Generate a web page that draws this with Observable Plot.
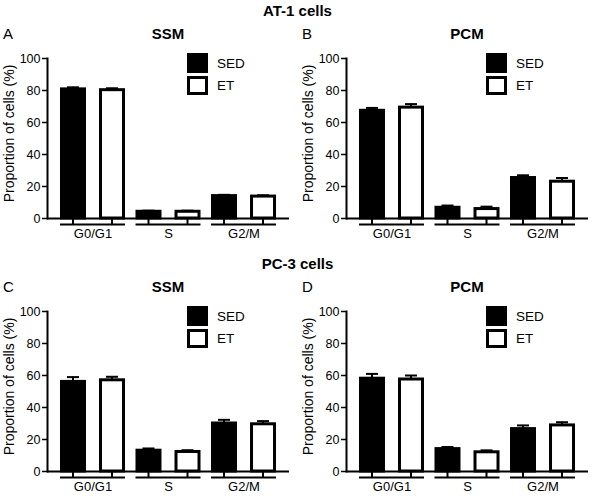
<!DOCTYPE html>
<html><head><meta charset="utf-8">
<script src="https://cdn.jsdelivr.net/npm/d3@7"></script>
<script src="https://cdn.jsdelivr.net/npm/@observablehq/plot@0.6"></script>
<style>
body{margin:0;background:#fff;}
#root{position:relative;width:595px;height:500px;font-family:"Liberation Sans",Arial,Helvetica,sans-serif;color:#000;overflow:hidden;}
.t{position:absolute;white-space:nowrap;line-height:1;}
.sw{position:absolute;box-sizing:border-box;}
#root svg{position:absolute;}
</style></head><body><div id="root"></div>
<script>
// ---- data ----
const phases = ["G0/G1", "S", "G2/M"];
const groups = ["SED", "ET"];
const cellLines = ["AT-1 cells", "PC-3 cells"];
const media = ["SSM", "PCM"];
const panelLetters = ["A", "B", "C", "D"];
const yTicks = [0, 20, 40, 60, 80, 100];
const yLabel = "Proportion of cells (%)";

// A: AT-1, SSM
const sedA = [80.7, 4.2, 14.0], sedErrA = [1.3, 0.7, 0.8];
const etA  = [80.2, 4.2, 13.7], etErrA  = [1.2, 0.7, 0.8];
// B: AT-1, PCM
const sedB = [67.3, 6.7, 25.3], sedErrB = [1.8, 1.4, 1.7];
const etB  = [69.3, 5.9, 23.0], etErrB  = [2.2, 1.5, 2.3];
// C: PC-3, SSM
const sedC = [56.0, 13.0, 30.0], sedErrC = [3.0, 1.4, 2.3];
const etC  = [57.0, 12.2, 29.5], etErrC  = [2.2, 1.1, 2.0];
// D: PC-3, PCM
const sedD = [58.0, 14.0, 26.5], sedErrD = [3.0, 1.3, 2.3];
const etD  = [57.5, 12.0, 28.8], etErrD  = [2.5, 1.2, 2.0];

const panels = [
  [sedA, sedErrA, etA, etErrA],
  [sedB, sedErrB, etB, etErrB],
  [sedC, sedErrC, etC, etErrC],
  [sedD, sedErrD, etD, etErrD]
];

// ---- layout ----
const W = 297, H = 246, ML = 47, MR = 8, MT = 58, MB = 28;
const PI = 0.139, PO = 0.172;
const BAR = 26, SW = 3;
const colLeft = [0, 299];
const rowTop = [0, 253];
const font = '"Liberation Sans", Arial, Helvetica, sans-serif';

const band = d3.scaleBand(phases, [ML, W - MR]).paddingInner(PI).paddingOuter(PO);
const bw = band.bandwidth();

function rowsOf(sed, sedErr, et, etErr) {
  const rows = [];
  phases.forEach((p, i) => {
    rows.push({phase: p, group: "SED", value: sed[i], err: sedErr[i]});
    rows.push({phase: p, group: "ET", value: et[i], err: etErr[i]});
  });
  return rows;
}

function makePlot(rows) {
  const marks = [];
  for (const g of groups) {
    const d = rows.filter(r => r.group === g);
    const c = g === "SED" ? BAR / 2 : bw - BAR / 2; // bar centre inside band
    // bars
    marks.push(Plot.barY(d, {
      x: "phase", y1: () => 0, y2: "value",
      fill: g === "SED" ? "black" : "white", stroke: "black", strokeWidth: SW,
      insetLeft: c - BAR / 2 + SW / 2, insetRight: bw - c - BAR / 2 + SW / 2
    }));
    // error stems
    marks.push(Plot.barY(d, {
      x: "phase", y1: "value", y2: r => r.value + r.err, fill: "black",
      insetLeft: c - 1, insetRight: bw - c - 1
    }));
    // error caps
    marks.push(Plot.tickY(d, {
      x: "phase", y: r => r.value + r.err, stroke: "black", strokeWidth: 2,
      insetLeft: c - 6, insetRight: bw - c - 6
    }));
    // category ticks below axis
    marks.push(Plot.barY(d, {
      x: "phase", y1: () => 0, y2: () => 0, fill: "black",
      insetTop: 0, insetBottom: -6, insetLeft: c - 1, insetRight: bw - c - 1
    }));
  }
  // group underline
  marks.push(Plot.tickY(phases, {x: d => d, y: () => 0, dy: 6, stroke: "black", strokeWidth: 2}));
  // axes
  marks.push(Plot.ruleY([0], {stroke: "black", strokeWidth: 2}));
  marks.push(Plot.frame({anchor: "left", stroke: "black", strokeWidth: 2}));
  marks.push(Plot.axisY({ticks: yTicks, tickSize: 5, tickPadding: 2, fontSize: 12.5, label: null, strokeWidth: 1.5}));
  marks.push(Plot.axisX({tickSize: 0, tickPadding: 10, fontSize: 13, label: null}));
  marks.push(Plot.text([yLabel], {text: d => d, frameAnchor: "left", textAnchor: "middle", lineAnchor: "middle", rotate: -90, dx: -37.5, dy: -5, fontSize: 14, fill: "black"}));

  return Plot.plot({
    width: W, height: H,
    marginLeft: ML, marginRight: MR, marginTop: MT, marginBottom: MB,
    x: {domain: phases, paddingInner: PI, paddingOuter: PO, align: 0.5, round: false, axis: null, label: null},
    y: {domain: [0, 100], axis: null, label: null},
    style: {fontFamily: font, color: "black", background: "transparent", overflow: "visible"},
    marks
  });
}

const root = document.getElementById("root");
function addText(txt, left, top, size, bold, center) {
  const el = document.createElement("div");
  el.className = "t";
  el.textContent = txt;
  el.style.fontSize = size + "px";
  el.style.fontWeight = bold ? "bold" : "normal";
  el.style.top = top + "px";
  if (center) { el.style.left = (left - 200) + "px"; el.style.width = "400px"; el.style.textAlign = "center"; }
  else el.style.left = left + "px";
  root.appendChild(el);
}
function addSwatch(left, top, filled) {
  const el = document.createElement("div");
  el.className = "sw";
  el.style.left = left + "px"; el.style.top = top + "px";
  el.style.width = "21px"; el.style.height = filled ? "20px" : "19px";
  el.style.background = filled ? "#000" : "#fff";
  el.style.border = "3px solid #000";
  root.appendChild(el);
}

// row titles (cell lines)
cellLines.forEach((t, r) => addText(t, 297.5, rowTop[r] + 2.5, 15, true, true));

panels.forEach((p, k) => {
  const r = Math.floor(k / 2), c = k % 2;
  const left = colLeft[c], top = rowTop[r];
  const svg = makePlot(rowsOf(...p));
  svg.style.left = left + "px";
  svg.style.top = top + "px";
  root.appendChild(svg);
  addText(panelLetters[k], left + 3, top + 25.5, 15, false, false);
  addText(media[c], left + (ML + W - MR) / 2, top + 25.5, 15, true, true);
  // legend
  addSwatch(left + 187, top + 53, true);
  addSwatch(left + 187, top + 76, false);
  addText(groups[0], left + 217, top + 56.5, 13.5, false, false);
  addText(groups[1], left + 217, top + 79, 13.5, false, false);
});
</script></body></html>
